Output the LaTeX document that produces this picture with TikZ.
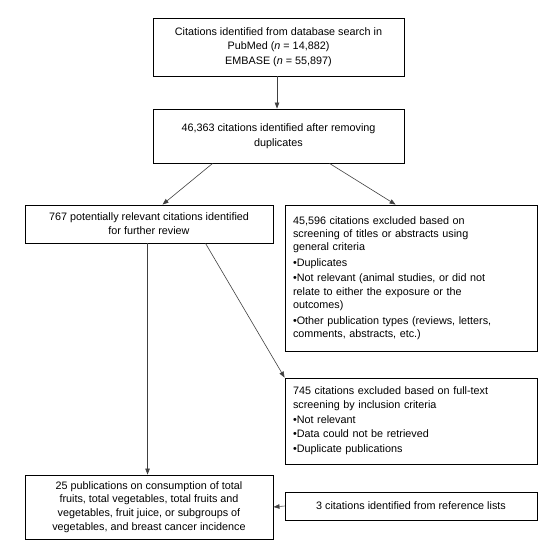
\documentclass[tikz,border=0pt]{standalone}
\usepackage{fontspec}
\setmainfont{Liberation Sans}
\usetikzlibrary{arrows.meta}
\tikzset{
  box/.style={draw=black, line width=0.9pt, rectangle, inner sep=0pt, font=\fontsize{10.8}{14.5}\selectfont},
  cbox/.style={box, align=center},
  lbox/.style={box, align=left, inner xsep=8pt},
  conn/.style={draw=black!75, line width=0.6pt, -{Triangle[length=6pt,width=4.5pt]}},
}
\begin{document}
\begin{tikzpicture}[x=1pt,y=-1pt]
\useasboundingbox (0,0) rectangle (549,547);
\node[cbox, minimum width=251pt, minimum height=58pt] (b1) at (278.5,47)
  {Citations identified from database search in\\PubMed (\textit{n} = 14,882)\\EMBASE (\textit{n} = 55,897)};
\node[cbox, minimum width=251pt, minimum height=54pt] (b2) at (278.5,136)
  {46,363 citations identified after removing\\duplicates};
\node[cbox, minimum width=248pt, minimum height=38pt, font=\fontsize{10.8}{13.8}\selectfont] (b3) at (149,224)
  {767 potentially relevant citations identified\\for further review};
\node[lbox, minimum width=252pt, minimum height=146pt, text width=236pt, font=\fontsize{10.8}{13.3}\selectfont] (b4) at (411,278)
  {45,596 citations excluded based on\\screening of titles or abstracts using\\general criteria\\[2.2pt]
   •Duplicates\\[2.2pt]
   •Not relevant (animal studies, or did not\\relate to either the exposure or the\\outcomes)\\[2.2pt]
   •Other publication types (reviews, letters,\\comments, abstracts, etc.)};
\node[lbox, minimum width=252pt, minimum height=86pt, text width=236pt, font=\fontsize{10.8}{13.3}\selectfont] (b5) at (411,421)
  {745 citations excluded based on full-text\\screening by inclusion criteria\\[1.5pt]
   •Not relevant\\[1.5pt]
   •Data could not be retrieved\\[1.5pt]
   •Duplicate publications};
\node[cbox, minimum width=248pt, minimum height=64pt, font=\fontsize{10.8}{13.7}\selectfont] (b6) at (149,507)
  {25 publications on consumption of total\\fruits, total vegetables, total fruits and\\vegetables, fruit juice, or subgroups of\\vegetables, and breast cancer incidence};
\node[cbox, minimum width=252pt, minimum height=28pt] (b7) at (411,506)
  {3 citations identified from reference lists};

\draw[conn] ([xshift=-1.5pt]b1.south) -- ([xshift=-1.5pt]b2.north);
\draw[conn] ([xshift=60pt]b2.south west) -- ([xshift=138pt]b3.north west);
\draw[conn] ([xshift=177pt]b2.south west) -- ([xshift=111pt]b4.north west);
\draw[conn] ([xshift=123pt]b3.south west) -- ([xshift=123pt]b6.north west);
\draw[conn] ([xshift=181pt]b3.south west) -- (b5.north west);
\draw[conn] (b7.west) -- (b6.east);
\end{tikzpicture}
\end{document}
